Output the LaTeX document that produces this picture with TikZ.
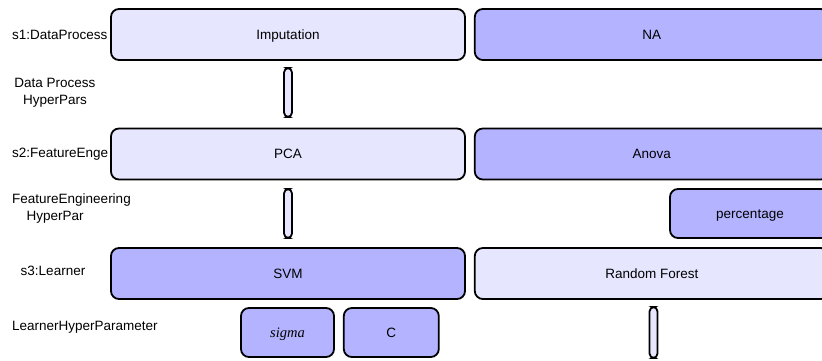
\documentclass[tikz,border=0pt]{standalone}
\usepackage{fontspec}
\setmainfont{Liberation Sans}
\newfontfamily\hyperserif{Liberation Serif}
\usepackage{tikz}
\usetikzlibrary{positioning}
\definecolor{darkfill}{HTML}{B3B3FF}
\definecolor{lightfill}{HTML}{E6E6FF}
\newlength{\stageWidth}
\setlength{\stageWidth}{354pt}
\tikzset{block/.style={shape=rectangle, draw, rounded corners=8pt, line width=1.8pt, inner sep=0pt, minimum width=\stageWidth, minimum height=51pt, node distance=8pt, text height=9.7pt, text depth=0pt, font=\fontsize{13.5}{17}\selectfont}}
\tikzset{pipe/.style={shape=rectangle, draw, fill=lightfill, rounded corners=4.5pt, line width=1.8pt, minimum width=8pt, minimum height=49pt, inner sep=0pt}}
\tikzset{rowlabel/.style={inner sep=0pt, font=\fontsize{13.5}{17}\selectfont}}

\begin{document}
\begin{tikzpicture}[x=1pt,y=-1pt]
\useasboundingbox (0,0) rectangle (822,360);
\clip (0,0) rectangle (822,360);
% row labels
\node[rowlabel, anchor=west] (l1) at (12,34.5) {s1:DataProcess};
\node[rowlabel, align=center] (h1) at (55,92.5) {Data Process\\HyperPars};
\node[rowlabel, anchor=west] (l2) at (12,154) {s2:FeatureEnge};
\node[rowlabel, anchor=west, align=left] (h2) at (12,208.5) {FeatureEngineering\\\hspace*{14.5pt}HyperPar};
\node[rowlabel] (l3) at (53,271) {s3:Learner};
\node[rowlabel, anchor=west] (h3) at (12,327) {LearnerHyperParameter};
% stages
\begin{scope}[every node/.style={block}]
    \node[fill=lightfill] (imputation) at (288,34.5) {Imputation};
    \node[fill=darkfill, right=of imputation] (na) {NA};
    \node[fill=lightfill] (pca) at (288,154) {PCA};
    \node[fill=darkfill, right=of pca] (anova) {Anova};
    \node[fill=darkfill] (svm) at (288,273.5) {SVM};
    \node[fill=lightfill, right=of svm] (rf) {Random Forest};
    % hyperparameters
    \node[fill=darkfill, minimum width=160pt, minimum height=49pt] (percentage) at (750,213.5) {percentage};
    \node[fill=darkfill, minimum width=93pt, minimum height=49pt] (sigma) at (287.5,332.5) {\hyperserif\itshape\fontsize{14.5}{17}\selectfont sigma};
    \node[fill=darkfill, minimum width=95pt, minimum height=49pt, right=of sigma] (c) {C};
\end{scope}
% empty hyperparameter slots
\node[pipe] (dppipe) at (288,92.5) {};
\node[pipe] (fepipe) at (288,213.5) {};
\node[pipe, minimum height=51pt] (rfpipe) at (653.5,332.5) {};
\end{tikzpicture}
\end{document}
